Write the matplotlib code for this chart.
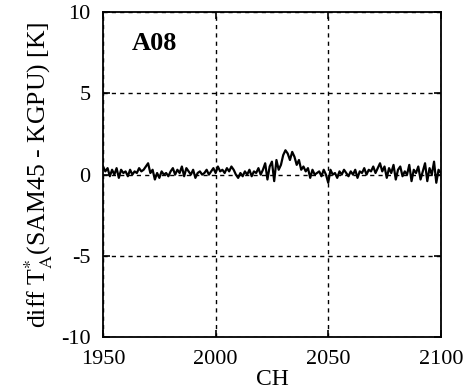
import numpy as np
import matplotlib
matplotlib.use("Agg")
from matplotlib import pyplot as plt

plt.rcParams['font.family'] = ['Liberation Serif', 'DejaVu Serif']
plt.rcParams['mathtext.fontset'] = 'stix'
plt.rcParams['axes.unicode_minus'] = False

ch_start = 1950
# diff TA* per channel
d1950 = [0.5, 0.2, 0.4, -0.1, 0.3, 0.0, 0.4, -0.2, 0.3, 0.1]
d1960 = [0.2, -0.1, 0.3, 0.0, 0.2, 0.1, 0.4, 0.2, 0.3, 0.5]
d1970 = [0.7, 0.1, 0.3, -0.3, 0.1, -0.2, 0.2, 0.0, 0.1, -0.1]
d1980 = [0.2, 0.4, 0.0, 0.3, 0.1, 0.5, -0.1, 0.4, 0.2, 0.0]
d1990 = [0.3, -0.2, 0.1, 0.2, 0.0, 0.1, 0.3, 0.0, 0.2, 0.4]
d2000 = [0.1, 0.5, 0.2, 0.3, 0.1, 0.4, 0.2, 0.5, 0.3, 0.0]
d2010 = [-0.2, 0.1, -0.1, 0.2, 0.0, 0.3, -0.1, 0.2, 0.1, 0.4]
d2020 = [0.0, 0.3, 0.7, -0.3, 0.5, 0.8, -0.4, 0.9, 0.3, 0.6]
d2030 = [1.2, 1.5, 1.3, 0.9, 1.4, 1.1, 0.6, 0.9, 0.3, 0.5]
d2040 = [0.2, 0.4, -0.2, 0.3, 0.0, 0.1, 0.2, -0.1, 0.3, 0.0]
d2050 = [-0.5, 0.3, 0.0, 0.1, -0.2, 0.2, 0.0, 0.3, 0.1, -0.1]
d2060 = [0.2, 0.0, 0.3, -0.2, 0.2, 0.1, 0.4, 0.0, 0.3, 0.2]
d2070 = [0.5, 0.1, 0.4, 0.7, 0.2, 0.5, -0.2, 0.4, 0.1, 0.6]
d2080 = [-0.3, 0.3, 0.5, -0.1, 0.2, 0.0, 0.6, -0.4, 0.3, 0.1]
d2090 = [0.5, -0.3, 0.2, 0.7, -0.4, 0.4, 0.0, 0.8, -0.5, 0.3]
d2100 = [0.1]

diff = (d1950 + d1960 + d1970 + d1980 + d1990 + d2000 + d2010 + d2020
        + d2030 + d2040 + d2050 + d2060 + d2070 + d2080 + d2090 + d2100)
ch = np.arange(ch_start, ch_start + len(diff))

xticks = [1950, 2000, 2050, 2100]
yticks = [-10, -5, 0, 5, 10]

fig = plt.figure(figsize=(4.75, 3.92), dpi=100)
ax = fig.add_axes([0.217, 0.140, 0.711, 0.829])

ax.plot(ch, diff, color='black', lw=1.6)

ax.set_xlim(1950, 2100)
ax.set_ylim(-10, 10)
ax.set_xticks(xticks)
ax.set_yticks(yticks)
ax.grid(True, color='black', linestyle=(0, (3, 3)), lw=1.0)
ax.tick_params(direction='in', length=5, width=1.2, top=True, right=True,
               labelsize=16)
ax.tick_params(axis='y', pad=9)
ax.tick_params(axis='x', pad=9)
for s in ax.spines.values():
    s.set_linewidth(1.3)

ax.set_xlabel('CH', fontsize=17, labelpad=0)
ax.set_ylabel(r'diff T$_{\rm A}^{*}$(SAM45 - KGPU) [K]', fontsize=18.5, labelpad=4)
ax.text(1973, 8.1, 'A08', fontsize=19, fontweight='bold', ha='center', va='center')

fig.savefig('out.png', dpi=100)
